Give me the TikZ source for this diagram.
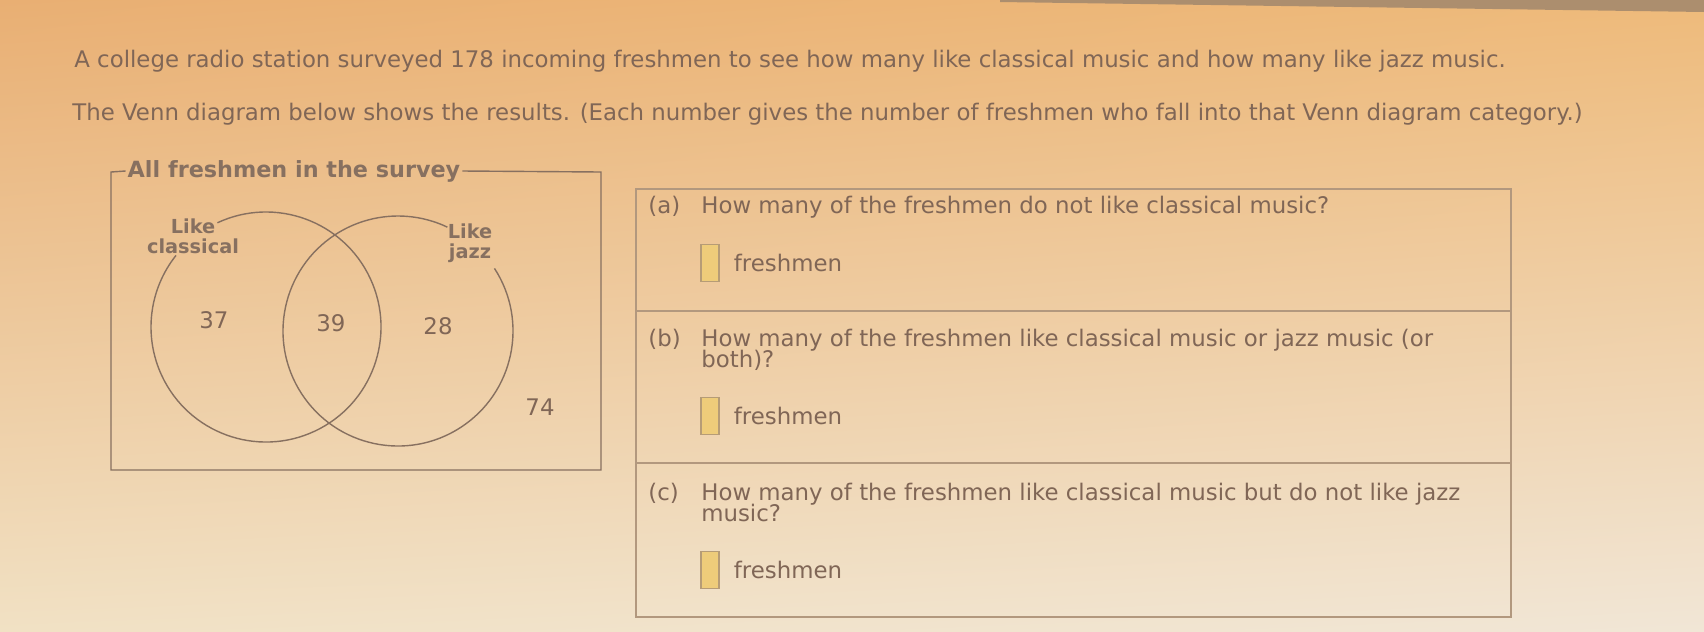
\documentclass[tikz,border=0pt]{standalone}
\usepackage{fontspec}
\setmainfont{DejaVu Sans}
\usetikzlibrary{positioning,shadings}
\definecolor{txtgray}{RGB}{128,102,86}
\definecolor{venngray}{RGB}{135,112,96}
\definecolor{panelgray}{RGB}{178,152,126}
\definecolor{ansfill}{RGB}{238,204,122}
\definecolor{ansedge}{RGB}{182,156,118}
\definecolor{stripgray}{RGB}{172,142,110}
\definecolor{bgul}{RGB}{233,175,115}
\definecolor{bgur}{RGB}{238,186,122}
\definecolor{bgll}{RGB}{241,225,196}
\definecolor{bglr}{RGB}{241,230,214}

\begin{document}
\begin{tikzpicture}[x=0.2mm, y=-0.2mm]
        \tikzstyle{txt}=[inner sep=0pt, anchor=base west, text=txtgray, font=\fontsize{13}{14}\selectfont]
        \tikzstyle{num}=[inner sep=0pt, text=txtgray, font=\fontsize{13}{14}\selectfont]
        \tikzstyle{setlabel}=[inner sep=0pt, align=center, text=venngray, font=\fontsize{11}{11.6}\selectfont\bfseries]
        \tikzstyle{venn}=[draw=venngray, line width=0.8pt]
        \tikzstyle{panel}=[draw=panelgray, line width=0.7pt]
        \tikzstyle{ansbox}=[draw=ansedge, fill=ansfill, line width=0.6pt, minimum width=0.36cm, minimum height=0.74cm, inner sep=0pt]

        % Background of the photo
        \useasboundingbox (0,0) rectangle (1704,631);
        \shade[upper left=bgul, upper right=bgur, lower left=bgll, lower right=bglr] (0,0) rectangle (1704,631);
        \fill[stripgray] (1000,0) -- (1704,0) -- (1704,12) -- (1000,2) -- cycle;

        % Problem statement
        \node[txt] (intro1) at (74,67) {A college radio station surveyed 178 incoming freshmen to see how many like classical music and how many like jazz music.};
        \node[txt] (intro2) at (72,120) {The Venn diagram below shows the results. (Each number gives the number of freshmen who fall into that Venn diagram category.)};

        % Venn diagram frame
        \coordinate (fTL) at (111,172);
        \coordinate (fTR) at (601,172);
        \coordinate (fBL) at (111,470);
        \coordinate (fBR) at (601,470);
        \node[inner sep=1pt, text=venngray, font=\fontsize{12.7}{14}\selectfont\bfseries] (survey) at (294,171) {All freshmen in the survey};
        \draw[venn] (survey.west) -- (fTL) -- (fBL) -- (fBR) -- (fTR) -- (survey.east);

        % Sets, with a gap where the labels sit
        \draw[venn] (266,327) ++(-115:115) arc[start angle=-115, end angle=218.5, radius=115];
        \draw[venn] (398,331) ++(-33:115) arc[start angle=-33, end angle=295.4, radius=115];
        \node[setlabel] (classical) at (193,236) {Like\\classical};
        \node[setlabel] (jazz) at (470,243) {Like\\jazz};

        % Counts
        \node[num] (onlyc) at (214,320) {37};
        \node[num] (both) at (331,323) {39};
        \node[num] (onlyj) at (438,326) {28};
        \node[num] (neither) at (540,407) {74};

        % Question panel
        \draw[panel] (636,189) rectangle (1511,617);
        \draw[panel] (636,311) -- (1511,311);
        \draw[panel] (636,463) -- (1511,463);

        % (a)
        \node[txt] (qa) at (648,213) {(a)};
        \node[txt] (texta) at (701,213) {How many of the freshmen do not like classical music?};
        \node[ansbox] (boxa) at (710,263) {};
        \node[txt, anchor=west, right=0.28cm of boxa] (unita) {freshmen};

        % (b)
        \node[txt] (qb) at (648,346) {(b)};
        \node[txt] (textb) at (701,346) {How many of the freshmen like classical music or jazz music (or};
        \node[txt] (textb2) at (701,367) {both)?};
        \node[ansbox] (boxb) at (710,416) {};
        \node[txt, anchor=west, right=0.28cm of boxb] (unitb) {freshmen};

        % (c)
        \node[txt] (qc) at (648,500) {(c)};
        \node[txt] (textc) at (701,500) {How many of the freshmen like classical music but do not like jazz};
        \node[txt] (textc2) at (701,521) {music?};
        \node[ansbox] (boxc) at (710,570) {};
        \node[txt, anchor=west, right=0.28cm of boxc] (unitc) {freshmen};
    \end{tikzpicture}
\end{document}
